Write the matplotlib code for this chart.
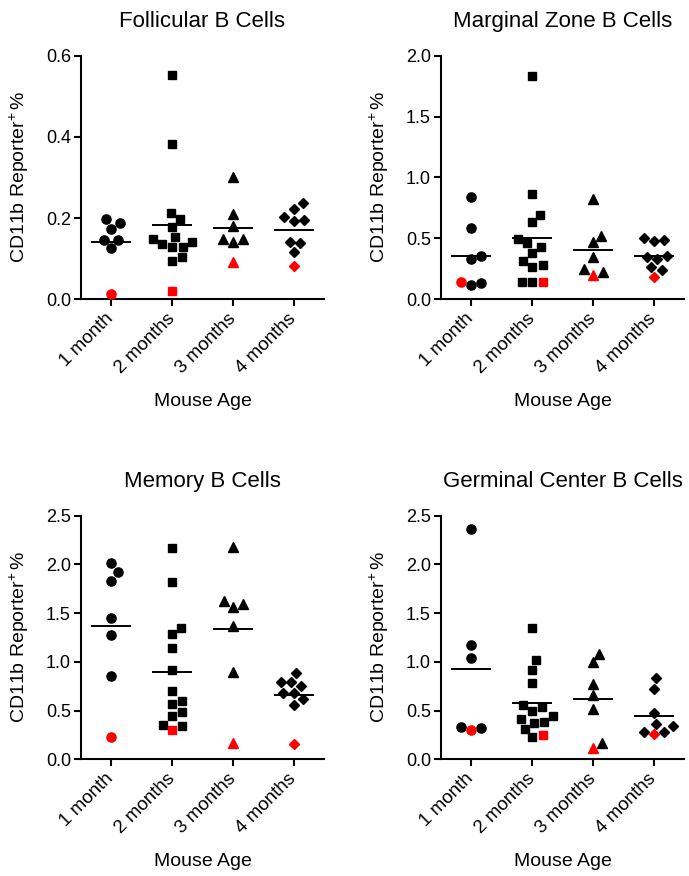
import numpy as np
import matplotlib
matplotlib.use('Agg')
import matplotlib.pyplot as plt

plt.rcParams['font.family'] = ['Liberation Sans', 'DejaVu Sans']
plt.rcParams['mathtext.fontset'] = 'custom'
plt.rcParams['mathtext.rm'] = 'Liberation Sans'
plt.rcParams['mathtext.it'] = 'Liberation Sans:italic'
plt.rcParams['mathtext.bf'] = 'Liberation Sans:bold'

categories = ['1 month', '2 months', '3 months', '4 months']
titles = ['Follicular B Cells', 'Marginal Zone B Cells',
          'Memory B Cells', 'Germinal Center B Cells']
ylabel = 'CD11b Reporter$^{+}\\,$%'
xlabel = 'Mouse Age'

# black points per age group
fol_black = [
    [0.197, 0.174, 0.188, 0.145, 0.145, 0.126],
    [0.553, 0.382, 0.212, 0.197, 0.179, 0.148, 0.153, 0.130, 0.141, 0.135, 0.128, 0.103, 0.095],
    [0.302, 0.210, 0.181, 0.148, 0.141, 0.149],
    [0.236, 0.202, 0.223, 0.194, 0.195, 0.141, 0.138, 0.117],
]
fol_red = [0.013, 0.021, 0.092, 0.081]

mz_black = [
    [0.843, 0.583, 0.358, 0.331, 0.118, 0.137],
    [1.833, 0.865, 0.689, 0.632, 0.495, 0.427, 0.460, 0.383, 0.317, 0.282, 0.268, 0.145, 0.140],
    [0.821, 0.523, 0.471, 0.345, 0.249, 0.222],
    [0.506, 0.479, 0.487, 0.345, 0.334, 0.356, 0.265, 0.243],
]
mz_red = [0.142, 0.140, 0.197, 0.183]

mem_black = [
    [2.018, 1.919, 1.833, 1.450, 1.279, 0.855],
    [2.172, 1.823, 1.344, 1.286, 1.139, 0.917, 0.705, 0.564, 0.595, 0.486, 0.441, 0.352, 0.345],
    [2.178, 1.590, 1.566, 1.628, 1.368, 0.899],
    [0.793, 0.756, 0.793, 0.889, 0.684, 0.677, 0.619, 0.561],
]
mem_red = [0.229, 0.304, 0.164, 0.157]

gc_black = [
    [2.360, 1.173, 1.043, 0.332, 0.325],
    [1.351, 1.019, 0.920, 0.787, 0.534, 0.561, 0.445, 0.499, 0.380, 0.410, 0.373, 0.311, 0.233],
    [1.084, 0.995, 0.770, 0.660, 0.513, 0.171],
    [0.725, 0.831, 0.472, 0.363, 0.339, 0.284, 0.284],
]
gc_red = [0.298, 0.253, 0.116, 0.257]

panels_black = [fol_black, mz_black, mem_black, gc_black]
panels_red = [fol_red, mz_red, mem_red, gc_red]
y_max = [0.6, 2.0, 2.5, 2.5]
y_step = [0.2, 0.5, 0.5, 0.5]

markers = ['o', 's', '^', 'D']
msizes = [6.6, 6.4, 7.0, 4.6]
RED = '#ff0000'

W, H = 689, 876
fig = plt.figure(figsize=(W / 100, H / 100), dpi=100)

ax_w, ax_h = 243.5, 243.6
lefts = [80.7, 440.7]
tops = [55.7, 515.7]


def swarm(ypix, diam, step=0.25):
    order = np.argsort(ypix, kind='stable')
    xs = np.zeros(len(ypix))
    placed = []
    for i in order:
        y = ypix[i]
        k = 0
        while True:
            cands = [0.0] if k == 0 else [k * step, -k * step]
            ok = None
            for c in cands:
                if all((c - px) ** 2 + (y - py) ** 2 >= diam ** 2 for px, py in placed):
                    ok = c
                    break
            if ok is not None:
                xs[i] = ok
                placed.append((ok, y))
                break
            k += 1
    return xs


for p in range(4):
    r, c = divmod(p, 2)
    left = lefts[c]
    top = tops[r]
    ax = fig.add_axes([left / W, 1 - (top + ax_h) / H, ax_w / W, ax_h / H])
    ax.set_xlim(-0.5, 3.5)
    ax.set_ylim(0, y_max[p])
    px_per_x = ax_w / 4.0
    px_per_y = ax_h / y_max[p]

    for g in range(4):
        vals = list(panels_black[p][g]) + [panels_red[p][g]]
        cols = ['black'] * len(panels_black[p][g]) + [RED]
        vals = np.array(vals)
        offs = swarm(vals * px_per_y, 10.5) / px_per_x
        for v, o, col in zip(vals, offs, cols):
            ax.plot(g + o, v, marker=markers[g], ms=msizes[g], color=col,
                    mec=col, linestyle='none', clip_on=False, zorder=3)
        m = vals.mean()
        ax.plot([g - 0.33, g + 0.33], [m, m], color='black', lw=1.4,
                solid_capstyle='butt', zorder=4)

    ax.spines['top'].set_visible(False)
    ax.spines['right'].set_visible(False)
    ax.spines['left'].set_linewidth(1.5)
    ax.spines['bottom'].set_linewidth(1.5)
    ax.set_xticks(range(4))
    ax.set_xticklabels(categories, rotation=45, ha='right', va='center',
                       rotation_mode='anchor', fontsize=13.5)
    yt = np.arange(0, y_max[p] + 1e-9, y_step[p])
    ax.set_yticks(yt)
    ax.set_yticklabels([f'{t:.1f}' for t in yt], fontsize=13)
    ax.tick_params(axis='both', direction='out', length=5, width=1.5, pad=2)
    ax.tick_params(axis='x', pad=7)

    ax.text(0.5, 1 + 28.4 / ax_h, titles[p], transform=ax.transAxes,
            ha='center', va='baseline', fontsize=16)
    ax.text(-61 / ax_w, 0.5, ylabel, transform=ax.transAxes, rotation=90,
            ha='center', va='center', fontsize=14)
    ax.text(0.5, -102.7 / ax_h, xlabel, transform=ax.transAxes,
            ha='center', va='center', fontsize=14)

fig.savefig('out.png', dpi=100)
